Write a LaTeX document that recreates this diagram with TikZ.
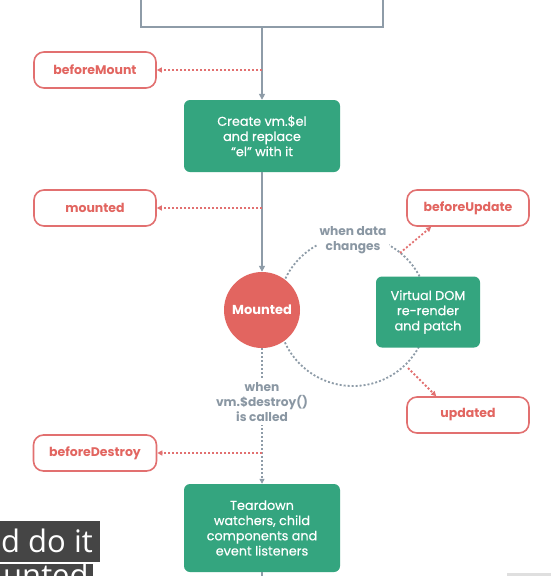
\documentclass[tikz,border=0pt]{standalone}
\usepackage{fontspec}
\setmainfont{Poppins}
\newfontfamily\medfont[FakeBold=0.5]{Poppins}
\newfontfamily\subfont{Open Sans}
\usetikzlibrary{arrows.meta}
\definecolor{vgreen}{HTML}{34A57F}
\definecolor{vred}{HTML}{E26560}
\definecolor{vredline}{HTML}{E27070}
\definecolor{vgray}{HTML}{8E9CA8}
\definecolor{vtext}{HTML}{8A97A3}
\definecolor{subbg}{HTML}{454545}
\begin{document}
\begin{tikzpicture}[x=1pt,y=-1pt,
 hook/.style={draw=vredline,line width=1.6pt,rounded corners=10pt,minimum width=122pt,minimum height=36pt,text=vred,font=\bfseries\fontsize{12.5}{14}\selectfont,fill=white},
 proc/.style={fill=vgreen,rounded corners=6pt,text=white,align=center,font=\medfont\fontsize{12.8}{15.2}\selectfont,inner sep=0pt},
 flow/.style={draw=vgray,line width=1.8pt,-{Triangle[length=6pt,width=6pt]}},
 hookarrow/.style={draw=vredline,line width=1.8pt,dash pattern=on 2pt off 2pt,-{Triangle[length=5pt,width=5pt]}},
 dotflow/.style={draw=vgray,line width=1.8pt,dash pattern=on 2pt off 2pt},
 note/.style={fill=white,text=vtext,font=\bfseries\fontsize{12.2}{15.2}\selectfont,align=center,inner sep=3pt},
]
\clip (0,0) rectangle (551,576);
\fill[white] (0,0) rectangle (551,576);

% dotted update loop
\draw[dotflow] (353,311) circle[radius=75pt];

% nodes
\node[draw=vgray,line width=1.8pt,minimum width=242pt,minimum height=60pt,anchor=south] (init) at (262,28) {};
\node[hook] (bm) at (95,70) {beforeMount};
\node[proc,minimum width=156pt,minimum height=72pt] (create) at (262,136) {Create vm.\$el\\and replace\\“el” with it};
\node[hook] (mt) at (95,208) {mounted};
\node[circle,fill=vred,minimum size=76pt,inner sep=0pt,text=white,font=\bfseries\fontsize{13}{14}\selectfont] (mc) at (262,310) {Mounted};
\node[proc,minimum width=104pt,minimum height=71pt] (vdom) at (428,312) {Virtual DOM\\re-render\\and patch};
\node[hook] (bu) at (468,208) {beforeUpdate};
\node[hook] (up) at (468,415) {updated};
\node[hook,minimum width=123pt] (bd) at (95,453) {beforeDestroy};
\node[proc,minimum width=156pt,minimum height=88pt] (td) at (262,528) {Teardown\\watchers, child\\components and\\event listeners};

% source points on the main line
\coordinate (bmsrc) at (262,70);
\coordinate (mtsrc) at (262,208);
\coordinate (busrc) at (400,253);
\coordinate (upsrc) at (408,368);
\coordinate (bdsrc) at (262,453);
\coordinate (tdout) at (262,580);

% connectors
\draw[flow] (init.south) -- (create.north);
\draw[hookarrow] (bmsrc) -- (bm.east);
\draw[flow] (create.south) -- (mc.north);
\draw[hookarrow] (mtsrc) -- (mt.east);
\draw[hookarrow] (busrc) -- ([xshift=25pt]bu.south west);
\draw[hookarrow] (upsrc) -- ([xshift=30pt]up.north west);
\draw[dotflow,-{Triangle[length=5pt,width=5pt]}] (mc.south) -- (td.north);
\draw[hookarrow] (bdsrc) -- (bd.east);
\draw[draw=vgray,line width=1.8pt] (td.south) -- (tdout);

% notes
\node[note] (ndata) at (353,240) {when data\\changes};
\node[note] (ndestroy) at (262,402) {when\\vm.\$destroy()\\is called};

% video subtitle overlay
\fill[subbg] (0,521) rectangle (100,562);
\node[anchor=base west,text=white,font=\subfont\fontsize{31}{31}\selectfont,inner sep=0pt] (sub1) at (1,552) {d do it};
\fill[subbg] (0,564) rectangle (93,576);
\begin{scope}
\clip (0,564) rectangle (93,576);
\node[anchor=base west,text=white,font=\subfont\fontsize{31}{31}\selectfont,inner sep=0pt] (sub2) at (3,586) {unted};
\end{scope}
\fill[gray!25] (507,573) rectangle (551,576);
\end{tikzpicture}
\end{document}
